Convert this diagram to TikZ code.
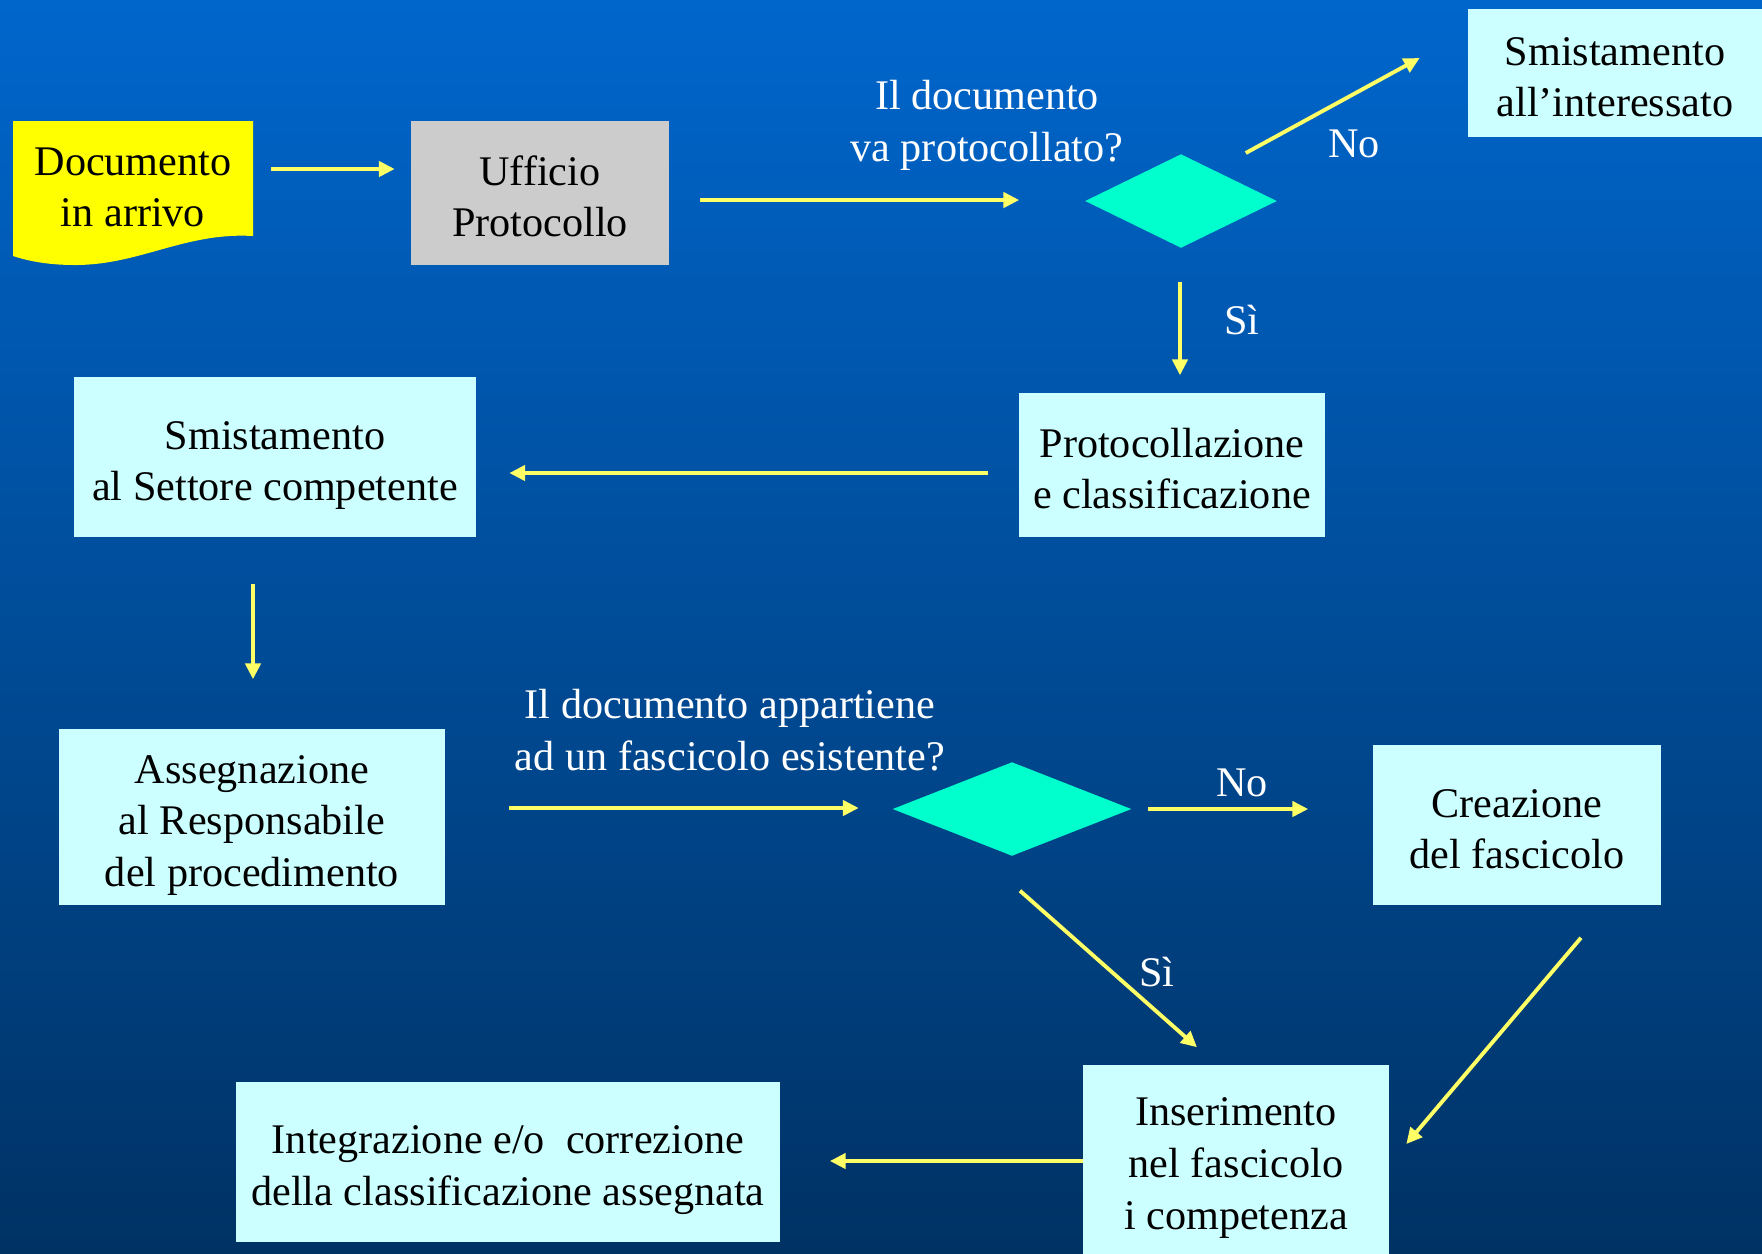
\documentclass[tikz,border=0pt]{standalone}
\usepackage{fontspec}
\setmainfont{Liberation Serif}
\usetikzlibrary{shapes.geometric, arrows.meta}

\definecolor{bgtop}{RGB}{0,102,204}
\definecolor{bgbottom}{RGB}{0,50,100}
\definecolor{boxcyan}{RGB}{204,255,255}
\definecolor{boxgray}{RGB}{204,204,204}
\definecolor{docyellow}{RGB}{255,255,0}
\definecolor{diamondgreen}{RGB}{0,255,204}
\definecolor{arrowyellow}{RGB}{255,255,102}

\begin{document}
\begin{tikzpicture}[x=0.01cm, y=-0.01cm,
        drop/.style={execute at begin node={\rule{0pt}{#1}}},
        block/.style={rectangle, fill=boxcyan, inner sep=0pt, align=flush center,
            font=\fontsize{12}{14.7}\selectfont, drop=10.3pt},
        decision/.style={diamond, fill=diamondgreen, inner sep=0pt,
            minimum width=2.39cm, minimum height=0.94cm},
        question/.style={align=center, text=white, font=\fontsize{12}{14.7}\selectfont},
        answer/.style={text=white, font=\fontsize{12}{14.7}\selectfont},
        arrow/.style={->, >={Triangle[length=4.5pt, width=4.3pt]}, line width=1.1pt, draw=arrowyellow}
    ]
        % Background
        \useasboundingbox (0,0) rectangle (1762,1253);
        \shade[top color=bgtop, bottom color=bgbottom] (0,0) rectangle (1762,1253);

        % Incoming document
        \fill[docyellow] (13,121) -- (253,121) -- (253,236)
            .. controls (185,232) and (140,265) .. (75,265)
            .. controls (45,265) and (25,260) .. (13,256) -- cycle;
        \node[block, fill=none, drop=8pt, text width=2.4cm, minimum height=1.24cm] (doc) at (133,183)
            {Documento\\in arrivo};

        % Protocol office
        \node[block, fill=boxgray, text width=2.57cm, minimum height=1.44cm] (office) at (540,193)
            {Ufficio\\Protocollo};

        % First decision
        \node[question] (q1) at (987,125) {Il documento\\va protocollato?};
        \node[decision, minimum width=1.92cm] (dec1) at (1181,201) {};
        \node[block, text width=2.93cm, minimum height=1.28cm] (forward) at (1615,73)
            {Smistamento\\all'interessato};
        \node[answer] (no1) at (1354,144) {No};
        \node[answer] (yes1) at (1242,320) {Sì};

        % Registration and routing
        \node[block, text width=3.06cm, minimum height=1.44cm] (register) at (1172,465)
            {Protocollazione\\e classificazione};
        \node[block, drop=12.7pt, text width=4.01cm, minimum height=1.59cm] (sector) at (275,457)
            {Smistamento\\al Settore competente};
        \node[block, drop=12.7pt, text width=3.85cm, minimum height=1.76cm] (assign) at (252,817)
            {Assegnazione\\al Responsabile\\del procedimento};

        % Second decision
        \node[question] (q2) at (730,730) {Il documento appartiene\\ad un fascicolo esistente?};
        \node[decision] (dec2) at (1012,809) {};
        \node[block, text width=2.88cm, minimum height=1.6cm] (create) at (1517,825)
            {Creazione\\del fascicolo};
        \node[answer] (no2) at (1242,783) {No};
        \node[answer] (yes2) at (1157,972) {Sì};

        % Filing and correction
        \node[block, text width=3.05cm, minimum height=1.98cm] (insert) at (1236,1164)
            {Inserimento\\nel fascicolo\\i competenza};
        \node[block, drop=12.7pt, text width=5.44cm, minimum height=1.6cm] (fix) at (508,1162)
            {Integrazione e/o~ correzione\\della classificazione assegnata};

        % Connect everything
        \draw[arrow] ([shift={(17,-14)}]doc.east) -- ([shift={(-16,-24)}]office.west);
        \draw[arrow] ([shift={(31,7)}]office.east) -- ([shift={(-65,-1)}]dec1.west);
        \draw[arrow] ([shift={(-32,-48)}]dec1.east) -- ([shift={(-48,-15)}]forward.west);
        \draw[arrow] ([shift={(-1,33)}]dec1.south) -- ([shift={(8,-17)}]register.north);
        \draw[arrow] ([shift={(-30,8)}]register.west) -- ([shift={(33,16)}]sector.east);
        \draw[arrow] ([shift={(-22,47)}]sector.south) -- ([shift={(1,-49)}]assign.north);
        \draw[arrow] ([shift={(64,-9)}]assign.east) -- ([shift={(-33,-1)}]dec2.west);
        \draw[arrow] ([shift={(16,0)}]dec2.east) -- ([shift={(-64,-16)}]create.west);
        \draw[arrow] ([shift={(8,34)}]dec2.south) -- ([shift={(-39,-17)}]insert.north);
        \draw[arrow] ([shift={(64,32)}]create.south) -- ([shift={(17,-20)}]insert.east);
        \draw[arrow] ([shift={(0,-3)}]insert.west) -- ([shift={(49,-1)}]fix.east);
    \end{tikzpicture}
\end{document}
